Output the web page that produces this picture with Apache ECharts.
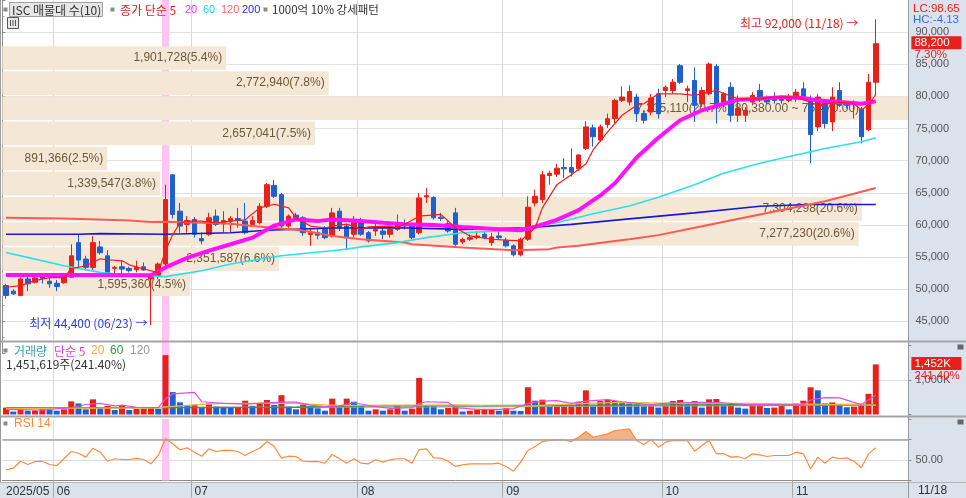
<!DOCTYPE html>
<html><head><meta charset="utf-8">
<script src="https://cdn.jsdelivr.net/npm/echarts@6.0.0/dist/echarts.min.js"></script>
<style>
html,body{margin:0;padding:0;background:#fff;overflow:hidden}
#wrap{position:relative;width:966px;height:498px}
.bg{position:absolute;background:#dae2ec}
#c{position:absolute;left:0;top:0;width:966px;height:498px}
</style></head><body>
<div id="wrap">
<div class="bg" style="left:908px;top:0;width:58px;height:498px"></div>
<div class="bg" style="left:0;top:482px;width:966px;height:16px"></div>
<div id="c"></div></div>
<script>
// ---------- trading days ----------
const mayDays=[22,23,26,27,28,29,30];
const junDays=[2,4,5,9,10,11,12,13,16,17,18,19,20,23,24,25,26,27,30];
const julDays=[1,2,3,4,7,8,9,10,11,14,15,16,17,18,21,22,23,24,25,28,29,30,31];
const augDays=[1,4,5,6,7,8,11,12,13,14,18,19,20,21,22,25,26,27,28,29];
const sepDays=[1,2,3,4,5,8,9,10,11,12,15,16,17,18,19,22,23,24,25,26,29,30];
const octDays=[1,2,10,13,14,15,16,17,20,21,22,23,24,27,28,29,30,31];
const novDays=[3,4,5,6,7,10,11,12,13,14,17,18];

// ---------- OHLC ----------
const openP=[50580,49700,49030,51600,51080,52070,51240,50930,51000,51860,
 57250,54700,53400,56590,55200,53250,53500,53250,53050,53500,
 51600,52120,53920,67800,62150,60090,60860,57880,58550,61380,
 60190,60600,61000,60600,60090,60350,62920,66160,64720,59830,
 61530,61120,58500,58800,59320,58290,62150,59830,58550,60600,
 58800,59060,59060,58550,59320,60090,60090,58800,64350,64300,
 61220,60190,61880,57360,57780,58030,58550,57250,58290,57630,
 56750,55360,57780,63430,63950,67700,67900,68940,68940,68730,
 71910,75110,73210,75620,76540,79380,79120,79890,77320,77580,
 80400,80920,80920,84780,80920,82470,78860,80400,84670,78860,
 81430,77070,77070,79120,80920,79630,79900,79630,79380,79630,
 81180,79630,75260,79120,76030,80920,78860,79120,77990,74800,
 82210];
const closeP=[49030,49290,51600,50840,51760,51700,50840,50420,52110,55200,
 54540,53400,57250,55670,52630,53400,53150,52890,53400,52990,
 51960,53920,63950,61640,59830,60710,58550,57520,61120,60090,
 60710,61020,60700,58800,60710,62920,66270,64460,59830,61380,
 61120,58800,58800,58400,58030,61880,59570,58030,60860,58550,
 57520,59320,58550,59320,60090,59830,58030,64200,64560,61120,
 61020,59060,57000,57750,58030,58290,58030,58130,58030,56750,
 55360,57780,62760,64460,67810,68050,68830,68730,68210,70890,
 75260,73720,75260,76540,79380,79890,80770,77320,76290,79740,
 77320,81430,82210,82210,81180,78610,80920,85030,78860,80400,
 77070,78090,77840,80150,79630,79120,79380,79380,79890,80660,
 79890,74070,79890,75770,79890,78610,78610,78860,73720,82200,
 88200];
const lowP=[48520,49100,48900,49700,50900,50880,50230,49700,50840,51760,
 53200,52890,52990,55400,52330,52270,51850,52600,52630,52890,
 44400,51550,53500,61000,58800,58800,58040,57000,58300,59830,
 58800,58800,59570,58550,59830,60090,62660,64200,59570,59570,
 60600,58290,56750,57780,57780,58030,59060,56280,58030,58290,
 57260,58290,57780,58030,59060,59320,57780,58550,63430,60860,
 60600,58800,56750,57000,57520,57780,57780,56750,57780,56490,
 55100,55100,57520,62900,63430,66270,67500,67290,67550,68400,
 71670,72170,72900,75100,75800,79120,78610,76030,75780,77070,
 76540,79890,80400,81940,79120,76030,78350,80150,75770,78350,
 76030,76030,76030,78860,79120,78860,78860,78860,79120,79120,
 79380,69600,74600,75000,74600,78350,78090,76540,72680,74600,
 80150];
const highP=[50840,50000,51860,52120,51900,52530,51960,51450,52530,57000,
 58550,55200,58270,57520,56080,53660,54430,53500,54430,54170,
 52380,54170,66270,67900,63430,61380,61220,58800,61890,62400,
 62150,61380,62660,63430,61380,63430,66530,67000,65000,61630,
 61880,61380,59570,59320,59830,62660,62660,60090,61380,61120,
 59060,60600,59570,59570,61640,60860,60340,64970,65740,64460,
 61880,60600,62660,58030,58550,59060,59060,58800,59320,58030,
 57000,58030,64460,65490,68430,68430,69500,70370,71910,71000,
 76140,75620,75620,77320,79630,81590,81700,80400,77840,80400,
 81190,81690,82720,85030,81690,84520,81430,85280,85030,80660,
 82210,80150,78350,80660,81940,80150,80660,80150,80400,81180,
 82210,80150,80400,79380,81430,82210,79120,79380,78350,83490,
 92000];

// ---------- price moving averages [dayIndex, value] ----------
const ma5=[[0,50310],[2,50570],[4,51350],[6,51810],[8,51810],[9,53200],[11,53660],[13,54740],[14,54590],[16,54430],[17,53800],[19,53150],[21,52580],[22,55980],[23,58500],[24,60300],[25,60600],[27,60600],[29,60340],[31,60600],[33,60800],[35,62660],[37,63230],[39,62660],[40,61110],[42,59830],[44,59570],[46,60000],[47,60140],[49,59320],[50,59700],[53,59830],[54,59570],[55,60100],[57,61370],[60,61640],[62,59570],[64,58290],[67,57780],[69,57630],[71,57520],[73,59570],[74,62660],[76,66270],[78,67810],[80,69500],[81,71670],[83,74490],[85,77070],[87,78610],[88,78860],[90,80400],[93,80400],[95,80150],[98,80920],[101,79630],[104,79630],[106,79890],[109,79890],[112,78660],[115,79120],[117,78860],[118,77900],[119,78700],[120,80300]];
const ma20=[[0,52230],[10,52230],[20,52190],[22,53400],[25,54890],[28,56000],[31,57000],[34,58030],[37,59900],[40,60870],[43,60600],[45,60870],[49,60600],[52,60340],[55,60100],[59,59990],[63,59680],[68,59320],[71,59170],[73,59720],[76,60800],[79,62300],[82,64600],[84,66500],[87,70500],[90,73560],[93,76300],[96,77840],[99,78860],[101,79470],[104,79630],[107,79890],[110,79740],[112,79380],[115,79120],[118,78860],[120,79230]];
const ma60=[[0,55710],[4,54690],[8,53660],[13,52630],[17,52120],[22,51960],[27,52890],[31,53920],[36,54850],[38,55200],[41,55560],[45,55980],[47,56240],[49,56590],[54,57260],[58,58030],[63,58800],[68,59060],[72,59570],[76,60340],[81,61760],[86,62960],[90,64330],[95,66270],[99,68060],[104,69600],[109,70900],[113,71910],[118,72950],[120,73560]];
const ma120=[[0,61110],[8,61020],[17,60710],[20,60450],[22,60500],[27,60340],[31,60190],[34,59830],[41,59140],[45,58290],[49,57780],[55,57260],[56,57000],[63,56480],[70,56080],[75,56240],[76,56480],[79,56750],[84,57520],[86,57780],[90,58420],[95,59570],[104,61640],[113,63690],[120,65740]];
const ma200=[[0,58550],[10,58550],[13,58650],[22,58550],[31,58800],[36,59170],[45,59520],[54,59570],[63,59320],[72,59570],[78,60100],[86,60950],[95,61880],[104,62920],[111,63180],[120,63180]];

// ---------- volume (thousand shares) ----------
const volK=[200,85,150,110,120,150,130,110,150,380,
 320,150,440,210,250,130,260,130,160,170,
 180,160,1720,650,350,270,280,200,320,230,
 220,200,210,400,250,340,420,280,560,230,
 150,290,240,180,110,460,230,460,370,250,
 110,150,110,150,250,110,170,1060,250,240,
 150,190,230,85,110,130,135,140,110,180,
 110,100,790,400,430,230,240,250,270,370,
 700,230,390,430,390,340,320,290,240,250,
 200,250,390,420,290,390,200,440,450,270,
 320,200,170,270,320,190,200,250,150,320,
 400,790,700,320,350,290,210,230,290,600,
 1452];
const vma5=[[0,150],[5,130],[9,200],[11,290],[13,320],[15,250],[16,270],[18,210],[21,200],[22,450],[23,600],[26,640],[27,370],[30,320],[33,300],[35,320],[38,360],[40,360],[42,270],[44,230],[46,250],[48,340],[50,260],[53,180],[56,200],[57,320],[58,370],[61,350],[62,200],[65,150],[68,150],[70,170],[72,320],[74,390],[76,400],[78,320],[80,390],[83,430],[85,370],[87,320],[89,290],[91,320],[93,340],[96,350],[99,340],[102,290],[105,290],[108,270],[110,290],[111,420],[113,490],[115,480],[117,350],[118,290],[120,560]];
const vma20=[[0,180],[21,190],[22,220],[26,280],[30,320],[40,320],[44,280],[47,260],[52,270],[58,270],[62,280],[66,260],[72,240],[75,280],[80,320],[85,350],[93,320],[103,320],[110,300],[116,290],[120,270]];
const vma60=[[0,200],[22,200],[40,210],[50,250],[70,260],[90,280],[120,290]];
const vma120=[[0,190],[60,220],[120,270]];

// ---------- RSI 14 ----------
const rsi=[40.4,42,48.8,45.6,48.5,48.8,45.6,44.6,51.2,58.3,
 56.6,52.8,61.5,57.6,48.8,51.2,50.5,50.5,51.5,50.5,
 46.3,54.4,70.7,65.8,60,61.9,57.6,53.7,60.9,58.3,
 59.3,59.3,58.3,54.4,58.3,61.5,68,63.2,51.8,53.7,
 53.4,48.8,48.5,48.5,46.9,55.4,51.2,46.9,51.2,46.9,
 46.3,50.2,47.9,50.2,51.2,51.2,46.9,60.2,60.9,52.1,
 51.8,48.8,43.7,45.3,46.3,46.3,46.3,46.3,46.9,43.7,
 39.1,47.9,59.3,63.2,68,69,69.6,69.6,68,72.2,
 77.8,72.2,73.9,75.5,78.8,79.4,80.4,69,65.1,70,
 62.5,67.4,69,68.8,68.8,58.6,64.1,69,56,56.3,
 52.8,53.2,51.5,56,55,53.4,54.4,54.4,54.4,57.6,
 56,41.4,52.8,46.9,52.8,51.2,52.1,48.8,42.4,56,
 61.9];

// ---------- volume profile (10 bands of closing price) ----------
const bandLow=[84290,80380,76470,72560,68650,64740,60830,56920,53010,49100];
const bandHigh=[88200,84290,80380,76470,72560,68650,64740,60830,56920,53010];
const bandVol=[1901728,2772940,7315110,2657041,891366,1339547,7304298,7277230,2351587,1595360];
const bandPct=['5.4','7.8','20.7','7.5','2.5','3.8','20.6','20.6','6.6','4.5'];

// ---------- derived helpers ----------
const pad=n=>String(n).padStart(2,'0');
const dates=[];
[['05',mayDays],['06',junDays],['07',julDays],['08',augDays],['09',sepDays],['10',octDays],['11',novDays]]
 .forEach(([m,ds])=>ds.forEach(d=>dates.push(`2025/${m}/${pad(d)}`)));
const categories=dates.concat(['e1','e2','e3','e4']);
const monthStart=new Set();
dates.forEach((d,i)=>{ if(i>0 && d.slice(5,7)!==dates[i-1].slice(5,7)) monthStart.add(i); });
const candles=openP.map((o,i)=>[o,closeP[i],lowP[i],highP[i]]);
const maxBand=Math.max(...bandVol);
const spikeDay=22; // highlighted session (06/25)

const RED='#e8201a', BLUE='#1f5fd0', PINK='#ffc4f2';
const KR='"Noto Sans CJK KR"', NUM='"Liberation Sans"';
const fmt=v=>v.toLocaleString('en-US');
const fmt2=v=>v.toLocaleString('en-US',{minimumFractionDigits:2,maximumFractionDigits:2});

const G={left:2.4,width:906};
const VOL_MAX=2000, RSI_MIN=30, RSI_MAX=90;
const grids=[
 {left:G.left,width:G.width,top:-2.92,height:356.45},
 {left:G.left,width:G.width,top:345.5,height:69},
 {left:G.left,width:G.width,top:419,height:61.5}
];
const catAxis=(gi,extra)=>Object.assign({
  type:'category',gridIndex:gi,data:categories,boundaryGap:true,
  axisLine:{show:false},axisTick:{show:false},axisLabel:{show:false},
  splitLine:{show:true,interval:(i)=>monthStart.has(i),lineStyle:{color:'#dadada',width:1}}
},extra||{});

const lineS=(data,color,width,xi,yi,z)=>({type:'line',data,xAxisIndex:xi,yAxisIndex:yi,symbol:'none',
  connectNulls:true,lineStyle:{color,width},itemStyle:{color},z:z||4,silent:true});
const sideLabel=(val,top,bottom)=>({symbol:['none','none'],silent:true,lineStyle:{color:'rgba(0,0,0,0)',width:0},
  data:[{yAxis:val,label:{show:true,position:'end',distance:3,offset:[0,5],
    formatter:`{a|${top}}\n{b|${bottom}}`,
    rich:{a:{backgroundColor:RED,color:'#fff',width:44,padding:[1,3,0,3],fontSize:11.5,lineHeight:13,fontFamily:NUM},
          b:{color:RED,fontSize:11.5,lineHeight:12,padding:[0,0,0,3],fontFamily:NUM}}}}]});

const gtext=(x,y,text,fill,size,font)=>({type:'text',x,y,z:100,style:{text,fill,font:`${size||12}px ${font||KR}`,verticalAlign:'middle'}});
const grect=(x,y,w,h,fill,stroke)=>({type:'rect',z:100,shape:{x,y,width:w,height:h},style:{fill,stroke:stroke||null,lineWidth:1}});
const gline=(x1,y1,x2,y2,stroke,w)=>({type:'line',z:100,shape:{x1,y1,x2,y2},style:{stroke,lineWidth:w||1}});

const baseGraphics=[
  // panel frames
  gline(0,341.5,966,341.5,'#a5a5a5',2),
  gline(0,416.5,966,416.5,'#a5a5a5',2),
  gline(0,482.5,966,482.5,'#b5b5b5',1),
  gline(908.5,0,908.5,498,'#9a9a9a',1),
  gline(0.5,0,0.5,482,'#9a9a9a',1),
  // top legend
  grect(3.5,7.5,4,4,'#8a8a8a'),
  grect(9.5,2.5,93,14,'#e6e6e6','#a0a0a0'),
  gtext(12,10,'ISC 매물대 수(10)','#333',12),
  grect(110.5,7.5,4,4,'#8a8a8a'),
  gtext(120,10,'종가 단순 5',RED,12),
  gtext(185,10,'20','#ff30ff',11,NUM),
  gtext(203,10,'60','#22d6e6',11,NUM),
  gtext(221,10,'120','#ff6a6a',11,NUM),
  gtext(242,10,'200','#2a2ae0',11,NUM),
  grect(263.5,7.5,4,4,'#8a8a8a'),
  gtext(272,10,'1000억 10% 강세패턴','#333',11.5),
  grect(7.5,17.5,11,11,'#e8e8e8','#555'),
  gline(10.5,20,10.5,26,'#555',1),gline(13,20,13,26,'#555',1),gline(15.5,20,15.5,26,'#555',1),
  // right side texts
  gtext(913,9,'LC:98.65',RED,11.5,NUM),
  gtext(913,20,'HC:-4.13','#3a6ee0',11.5,NUM),
  gtext(918,491,'11/18','#333',12,NUM),
  grect(957.5,344.5,6,5,'#666'),
  grect(957.5,419.5,6,5,'#666'),
  // volume legend
  grect(3.5,348.5,4,4,'#8a8a8a'),
  gtext(14,351,'거래량','#3a9eaa',12),
  gtext(54,351,'단순 5','#e040e0',12),
  gtext(91,351,'20','#f0b030',12,NUM),
  gtext(110,351,'60','#2f9a4a',12,NUM),
  gtext(130,351,'120','#9a9a9a',12,NUM),
  gtext(6,364,'1,451,619주(241.40%)','#333',12),
  // RSI legend
  grect(3.5,421.5,4,4,'#8a8a8a'),
  gtext(14,424,'RSI 14','#ff8a3d',12,NUM)
];

const option={
 animation:false,
 textStyle:{fontFamily:NUM},
 grid:grids,
 xAxis:[
  catAxis(0),
  catAxis(1),
  catAxis(2,{
    axisLine:{show:true,lineStyle:{color:'#8a8a8a',width:1}},
    axisTick:{show:true,interval:(i)=>monthStart.has(i),length:17,lineStyle:{color:'#a8a8a8'}},
    axisLabel:{show:true,interval:(i)=>i===0||monthStart.has(i),align:'left',margin:5,color:'#333',fontSize:12,fontFamily:NUM,
      formatter:(v,i)=>i===0?v.slice(0,7):v.slice(5,7)}
  }),
  {type:'value',gridIndex:0,min:0,max:7700000,show:false}
 ],
 yAxis:[
  {type:'value',gridIndex:0,position:'right',min:40000,max:95000,interval:5000,
   axisLine:{show:true,lineStyle:{color:'#8c8c8c'}},
   axisTick:{show:true,length:3,lineStyle:{color:'#8c8c8c'}},
   minorTick:{show:true,splitNumber:2,length:2,lineStyle:{color:'#9a9a9a'}},
   axisLabel:{formatter:v=>fmt(v),showMinLabel:false,showMaxLabel:false,color:'#555',fontSize:11,margin:7,fontFamily:NUM},
   splitLine:{show:true,showMinLine:false,showMaxLine:false,lineStyle:{color:'#e3e3e3'}}},
  {type:'value',gridIndex:1,position:'right',min:0,max:VOL_MAX,interval:1000,
   axisLine:{show:true,lineStyle:{color:'#8c8c8c'}},
   axisTick:{show:true,length:3,lineStyle:{color:'#8c8c8c'}},
   axisLabel:{formatter:v=>v===1000?'1,000K':'',color:'#555',fontSize:11,margin:7,fontFamily:NUM},
   splitLine:{show:true,showMinLine:false,showMaxLine:false,lineStyle:{color:'#e0e0e0'}}},
  {type:'value',gridIndex:2,position:'right',min:RSI_MIN,max:RSI_MAX,interval:20,
   axisLine:{show:true,lineStyle:{color:'#8c8c8c'}},
   axisTick:{show:true,length:3,lineStyle:{color:'#8c8c8c'}},
   axisLabel:{formatter:v=>v===50?'50.00':'',color:'#555',fontSize:11,margin:7,fontFamily:NUM},
   splitLine:{show:true,showMinLine:false,showMaxLine:false,lineStyle:{color:'#dcdcdc'}}}
 ],
 series:[
  // pink highlight column in the price panel
  {type:'custom',xAxisIndex:0,yAxisIndex:0,z:0.5,silent:true,clip:false,
   data:[[spikeDay,60000]],encode:{x:0,y:1},
   renderItem:(params,api)=>{
     const cs=params.coordSys;
     const c=api.coord([api.value(0),api.value(1)]);
     const w=api.size([1,0])[0];
     return {type:'rect',shape:{x:c[0]-w/2,y:cs.y,width:w,height:cs.height},style:{fill:PINK}};
   }},
  {type:'custom',name:'profile',xAxisIndex:3,yAxisIndex:0,z:1,silent:true,clip:true,
   data:bandVol.map((v,k)=>[v,bandLow[k],bandHigh[k]]),
   encode:{x:0,y:[1,2]},
   renderItem:(params,api)=>{
     const k=params.dataIndex;
     const v=api.value(0),lo=api.value(1),hi=api.value(2);
     const a=api.coord([0,hi]),b=api.coord([v,lo]);
     const cs=params.coordSys;
     const isMax=v===maxBand;
     const xr=isMax?cs.x+cs.width:b[0];
     const yT=a[1]+2.5,yB=b[1]+1;
     let txt=`${fmt(v)}(${bandPct[k]}%)`;
     if(isMax) txt+=`(${fmt2(hi)} ~ ${fmt2(lo)})`;
     return {type:'group',children:[
       {type:'rect',shape:{x:a[0],y:yT,width:xr-a[0],height:yB-yT},style:{fill:'#f5e7d5'}},
       {type:'text',x:b[0]-4,y:(yT+yB)/2,style:{text:txt,align:'right',verticalAlign:'middle',fill:'#6b5838',font:`12px ${NUM}`}}
     ]};
   }},
  {type:'candlestick',name:'price',xAxisIndex:0,yAxisIndex:0,z:3,barWidth:5,data:candles,silent:true,
   itemStyle:{color:RED,color0:BLUE,borderColor:RED,borderColor0:BLUE,borderWidth:1},
   markPoint:{symbol:'circle',symbolSize:1,itemStyle:{color:'rgba(0,0,0,0)'},silent:true,
     data:[
      {coord:[120,92000],label:{show:true,position:'left',distance:17,offset:[0,4],formatter:'최고 92,000 (11/18) →',color:RED,fontSize:12,fontFamily:KR}},
      {coord:[20,44400],label:{show:true,position:'left',distance:3,offset:[0,-2],formatter:'최저 44,400 (06/23) →',color:'#2a3de0',fontSize:12,fontFamily:KR}}
     ]},
   markLine:sideLabel(88200,'88,200','7.30%')
  },
  lineS(ma200,'#1818d8',1.6,0,0,4),
  lineS(ma120,'#ff5a52',2,0,0,4),
  lineS(ma60,'#2ae0ef',1.6,0,0,4),
  lineS(ma20,'#ff10ff',4,0,0,5),
  lineS(ma5,'#ff1818',1.2,0,0,6),
  {type:'bar',name:'vol',xAxisIndex:1,yAxisIndex:1,barWidth:6,data:volK,z:3,silent:true,
   itemStyle:{color:p=>(p.dataIndex===0||volK[p.dataIndex]>=volK[p.dataIndex-1])?RED:BLUE},
   markLine:sideLabel(1452,'1,452K','241.40%')},
  lineS(vma120,'#a0a0a0',1.2,1,1,4),
  lineS(vma60,'#2f9a4a',1.4,1,1,4),
  lineS(vma20,'#f2b535',1.2,1,1,4),
  lineS(vma5,'#e050e0',1.2,1,1,5),
  {type:'line',name:'rsiFill',xAxisIndex:2,yAxisIndex:2,data:rsi.map(v=>Math.max(v,70)),symbol:'none',silent:true,z:2.5,
   lineStyle:{opacity:0,width:0},areaStyle:{origin:70,color:'#f4b386',opacity:1}},
  {type:'line',name:'rsi',xAxisIndex:2,yAxisIndex:2,data:rsi,symbol:'none',silent:true,z:4,
   lineStyle:{color:'#ff8a3d',width:1.2},
   markLine:{symbol:['none','none'],silent:true,label:{show:false},lineStyle:{color:'#a4a4a4',width:1.5,type:'solid'},data:[{yAxis:70}]}}
 ],
 graphic:{elements:baseGraphics}
};
const chart=echarts.init(document.getElementById('c'));
chart.setOption(option);

// pink highlight columns of the spike session in the volume and RSI panels,
// positioned through the chart's own axes
const pinkCols=[];
[[1,1,0,VOL_MAX],[2,2,RSI_MIN,RSI_MAX]].forEach(([xi,yi,lo,hi])=>{
  const xc=chart.convertToPixel({xAxisIndex:xi},spikeDay);
  const xn=chart.convertToPixel({xAxisIndex:xi},spikeDay+1);
  const w=xn-xc;
  const yTop=chart.convertToPixel({yAxisIndex:yi},hi);
  const yBot=chart.convertToPixel({yAxisIndex:yi},lo);
  pinkCols.push({type:'rect',z:1,shape:{x:xc-w/2,y:yTop,width:w,height:yBot-yTop},style:{fill:PINK}});
});
chart.setOption({graphic:{elements:pinkCols.concat(baseGraphics)}},{replaceMerge:['graphic']});
</script></body></html>
